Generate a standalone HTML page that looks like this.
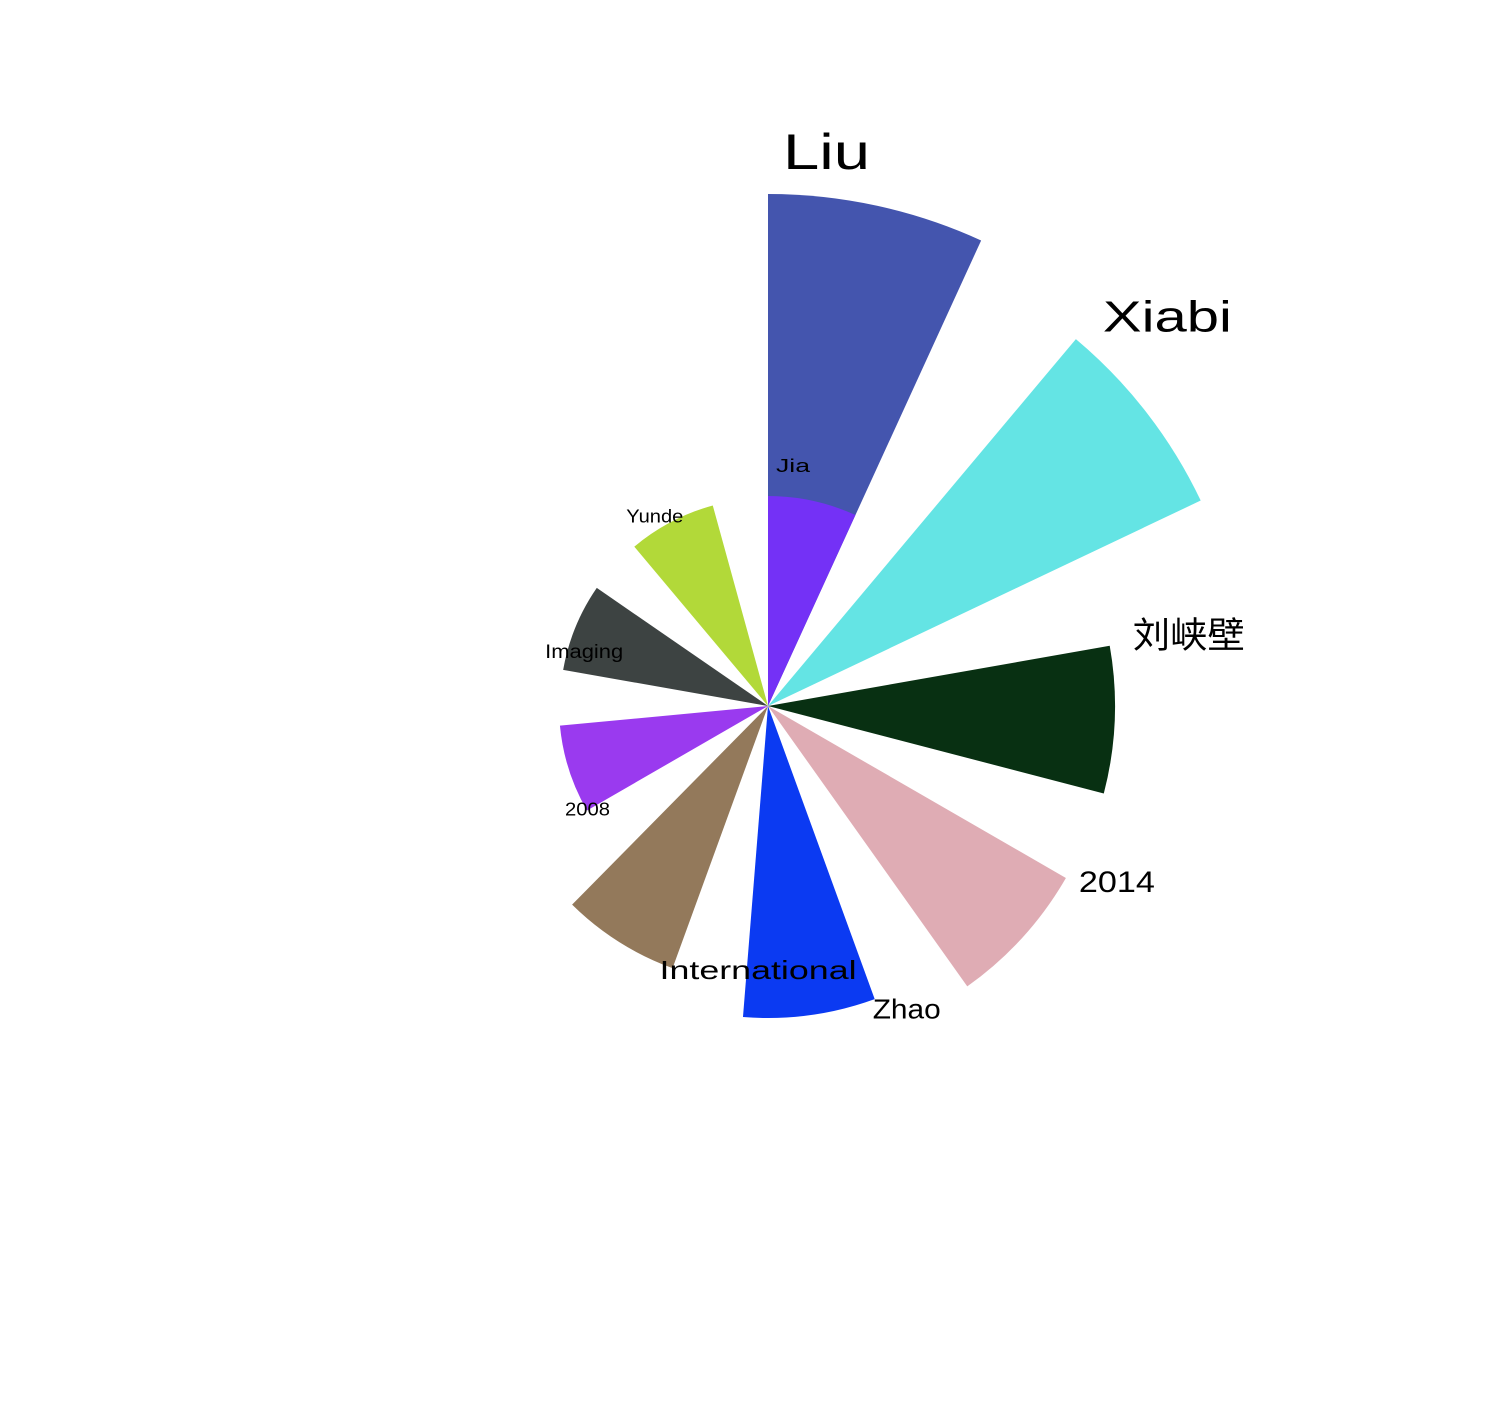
<!DOCTYPE html>
<html><head><meta charset="utf-8"><style>
html,body{margin:0;padding:0;background:#fff;}
svg text{font-family:"WenQuanYi Zen Hei","Liberation Sans","Noto Sans CJK SC",sans-serif;fill:#000;}
</style></head><body>
<svg id="chart" width="1500" height="1400" viewBox="0 0 1500 1400" xmlns="http://www.w3.org/2000/svg">
<g id="bars"></g>
<g id="labels"></g>
</svg>
<script>
const categories = ["Liu","Xiabi","刘峡壁","2014","Zhao","International","2008","Imaging","Yunde","Jia"];
const values = [512,479,347,344,312,279,209,208,208,210];
const colors = ["#4455ae","#64e4e4","#083012","#dfacb4","#0b3af2","#93795b","#9a3aef","#3d4342","#b2d939","#7431f6"];
const fontSizes = [50,44,36,30,28,26,18,19,18,18];
// layout (not data): label offsets relative to bar start-edge tip, and text widths
const labelDx = [15,27,23,13,-2,-13,-22,-18,-8,8];
const labelDy = [-38,-19,-8,6,12,4,0,-17,-29,-29];
const labelW = [87,129,112,76,68,197,45,78,57,34];

const cx = 768, cy = 706, step = 40, width = 24.6;
const rScale = v => v;            // value -> radius
const angle = i => i * step;       // degrees clockwise from up
function pt(deg, r){ const a = deg*Math.PI/180; return [cx + r*Math.sin(a), cy - r*Math.cos(a)]; }

const NS = "http://www.w3.org/2000/svg";
const gb = document.getElementById("bars"), gl = document.getElementById("labels");
categories.forEach((c,i)=>{
  const r = rScale(values[i]), a0 = angle(i), a1 = a0 + width;
  const p0 = pt(a0,r), p1 = pt(a1,r);
  const path = document.createElementNS(NS,"path");
  path.setAttribute("d",`M${cx},${cy} L${p0[0]},${p0[1]} A${r},${r} 0 0 1 ${p1[0]},${p1[1]} Z`);
  path.setAttribute("fill",colors[i]);
  
  
  gb.appendChild(path);
  const t = document.createElementNS(NS,"text");
  t.setAttribute("x", p0[0] + labelDx[i]);
  t.setAttribute("y", p0[1] + labelDy[i]);
  t.setAttribute("dominant-baseline","middle");
  t.setAttribute("font-size", fontSizes[i]);
  t.setAttribute("textLength", labelW[i]);
  t.setAttribute("lengthAdjust","spacingAndGlyphs");
  t.textContent = c;
  
  
  gl.appendChild(t);
});
</script>
</body></html>
